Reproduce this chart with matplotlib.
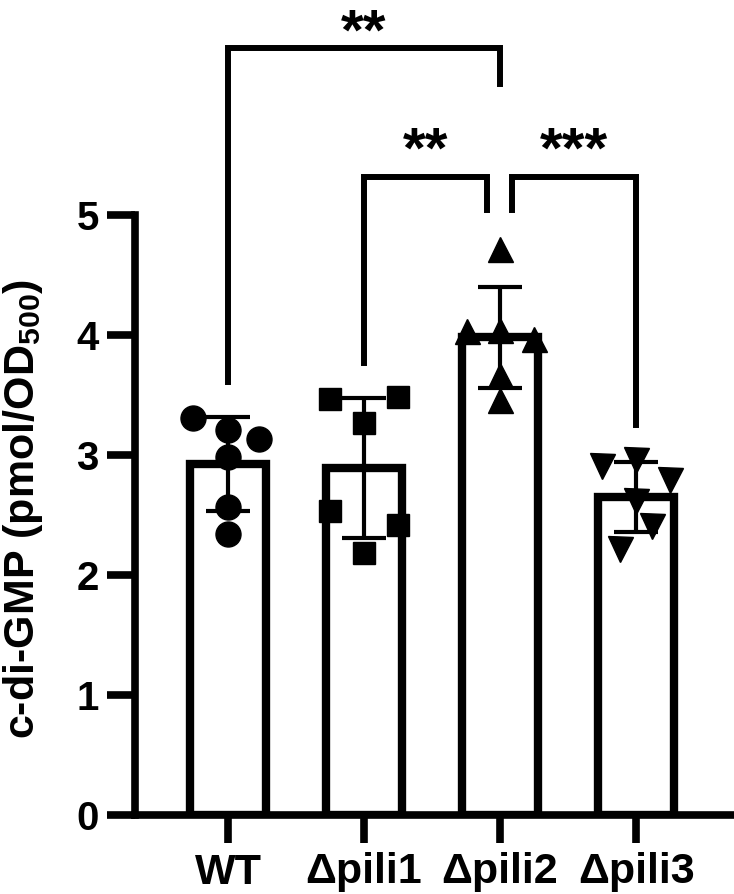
import numpy as np
import matplotlib.pyplot as plt

plt.rcParams['font.family'] = ['Liberation Sans', 'DejaVu Sans']
plt.rcParams['font.weight'] = 'bold'
plt.rcParams['mathtext.fontset'] = 'custom'
plt.rcParams['mathtext.bf'] = 'Liberation Sans:bold'
plt.rcParams['mathtext.rm'] = 'Liberation Sans:bold'
plt.rcParams['mathtext.default'] = 'bf'

# data
groups = ['WT', 'Δpili1', 'Δpili2', 'Δpili3']
markers = ['o', 's', '^', 'v']
wt = [3.31, 3.21, 3.13, 2.98, 2.57, 2.34]
pili1 = [3.47, 3.48, 3.27, 2.53, 2.42, 2.18]
pili2 = [4.72, 4.03, 4.04, 3.97, 3.67, 3.46]
pili3 = [2.91, 2.96, 2.79, 2.62, 2.41, 2.22]
values = [wt, pili1, pili2, pili3]
# horizontal scatter of the replicate points
jitter = [[-0.26, 0.0, 0.23, 0.0, 0.0, 0.0],
          [-0.25, 0.25, 0.0, -0.25, 0.25, 0.0],
          [0.0, -0.24, 0.0, 0.25, 0.0, 0.0],
          [-0.25, 0.0, 0.25, 0.0, 0.12, -0.12]]
sd = [0.39, 0.58, 0.42, 0.29]

x = np.arange(len(groups))
means = [np.mean(v) for v in values]

fig = plt.figure(figsize=(7.34, 8.94), dpi=100)
ax = fig.add_axes([135 / 734, 79 / 894, 599 / 734, 815 / 894])

ax.bar(x, means, width=0.56, color='white', edgecolor='black', linewidth=6, zorder=1)
for i, v in enumerate(values):
    ax.plot(x[i] + np.array(jitter[i]), v, linestyle='none', marker=markers[i],
            markersize=18 if markers[i] != 's' else 16, color='black', zorder=2)
ax.errorbar(x, means, yerr=sd, fmt='none', ecolor='black', elinewidth=3,
            capsize=16, capthick=3, zorder=3)

# significance brackets
lw = 4.3
ax.plot([0, 0, 2, 2], [3.61, 6.39, 6.39, 6.09], color='black', lw=lw, clip_on=False,
        solid_joinstyle='miter')
ax.plot([1, 1, 1.905, 1.905], [3.77, 5.32, 5.32, 5.04], color='black', lw=lw,
        clip_on=False, solid_joinstyle='miter')
ax.plot([2.09, 2.09, 3, 3], [5.04, 5.32, 5.32, 3.25], color='black', lw=lw,
        clip_on=False, solid_joinstyle='miter')
ax.text(1, 6.5, '**', ha='center', va='center', fontsize=42, fontweight='bold')
ax.text(1.45, 5.52, '**', ha='center', va='center', fontsize=42, fontweight='bold')
ax.text(2.54, 5.52, '***', ha='center', va='center', fontsize=42, fontweight='bold')

ax.set_xlim(-0.684, 3.72)
ax.set_ylim(0, 815 / 120)
ax.set_yticks([0, 1, 2, 3, 4, 5])
ax.set_xticks(x)
ax.set_xticklabels(groups)
ax.spines['top'].set_visible(False)
ax.spines['right'].set_visible(False)
ax.spines['left'].set_bounds(0, 5)
ax.spines['left'].set_linewidth(5.5)
ax.spines['bottom'].set_linewidth(5.5)
ax.tick_params(axis='both', length=20, width=5.5, labelsize=29, pad=6)
ax.tick_params(axis='x', labelsize=31, pad=7)
ax.set_ylabel('c-di-GMP (pmol/OD$_{500}$)', fontsize=31, fontweight='bold')
ax.yaxis.set_label_coords(-0.15, 0.375)

fig.savefig('out.png', dpi=100)
